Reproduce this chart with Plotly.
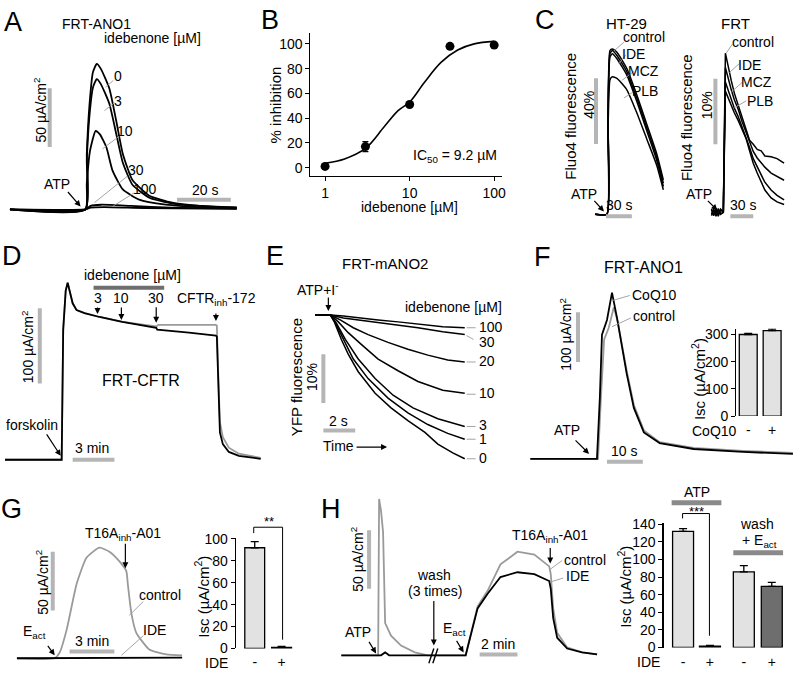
import plotly.graph_objects as go

W, H = 800, 678
FONT = "Liberation Sans, Arial, sans-serif"
BLACK = "#000000"
GTRACE = "#9a9a9a"
GBAR = "#b5b5b5"
DARK = "#6e6e6e"
FILL = "#e2e2e2"

# ---------------- DATA ----------------
# A: FRT-ANO1 short-circuit current (t in s, Isc in uA/cm2), idebenone 0,3,10,30,100 uM
a_t0 = [0, 28.1, 28.6, 29.6, 30.9, 32.3, 33.8, 37, 39.6, 42, 45.6, 51.9, 60.4, 70, 84.4]
a_i0 = [0, 0, 47, 89, 117, 124, 120, 103, 75, 47.5, 25, 11.7, 5.8, 3.3, 1.7]
a_i3 = [0, 0, 42, 80, 104, 111, 107, 90, 64, 40, 21, 10, 5, 3, 1.5]
a_t10 = [0, 28.1, 28.6, 29.8, 31.9, 33.5, 35.9, 38.2, 42, 48.1, 58, 70, 84.4]
a_i10 = [0, 0, 22, 50, 67, 64, 53, 33, 17, 8.3, 4, 2, 1.2]
a_t30 = [0, 28.1, 30, 34, 45, 60, 84.4]
a_i30 = [0, 0, 3, 4, 3, 1.5, 0.8]
a_t100 = [0, 28.1, 30, 35, 50, 84.4]
a_i100 = [0, 0, 1.5, 2, 1.2, 0.5]
a_labels = ["0", "3", "10", "30", "100"]

# B: dose-response
b_dose = [1, 3, 10, 30, 100]
b_inh = [1, 17, 51, 98, 99]
b_err = [1, 4, 1.5, 1.5, 1.5]
b_fit_x = [1, 1.7, 3, 5, 7.3, 10, 15, 23.5, 37, 58, 100]
b_fit_y = [3.5, 7, 15.5, 33, 46, 53, 69, 85, 95, 100, 102]
b_xticks = [1, 10, 100]
b_yticks = [0, 20, 40, 60, 80, 100]

# C: Fluo4 fluorescence (t in s, % change)
c_ht_t = [0, 13.8, 15.0, 17.3, 20.0, 25.4, 36.9, 48.4, 60.0, 71.5, 79.2]
c_ht_control = [0, 0, 60, 100, 101, 99, 89, 73, 55, 37, 21]
c_ht_ide = [0, 0, 58, 98, 100, 97, 87, 71, 53, 35, 19]
c_ht_mcz = [0, 0, 56, 96, 98, 95, 85, 69, 51, 33, 17]
c_ht_plb = [0, 0, 48, 82, 84, 83, 76, 62, 46, 30, 15]
c_frt_t = [0, 3, 6, 9, 12, 15.6, 18.3, 22, 26, 30, 35.2, 40, 45.6, 50, 54.8, 60, 65.2, 70, 78.2, 86, 95.2]
c_frt_control = [0.4, -0.5, 0.6, -0.3, 0.5, 0, 24.3, 22, 20.1, 18.2, 16.4, 14.4, 12.7, 11.0, 10.4, 9.6, 9.4, 8.6, 8.5, 8.2, 7.5]
c_frt_ide = [-0.3, 0.5, -0.6, 0.4, -0.2, 0, 22.1, 20.3, 18.7, 17.2, 15.7, 13.9, 12.2, 10.7, 9.3, 8.3, 7.5, 6.9, 6.0, 5.5, 4.9]
c_frt_mcz = [0.5, -0.4, 0.3, -0.6, 0.4, 0, 19.9, 18.6, 17.2, 15.9, 14.6, 13.1, 11.6, 9.9, 8.2, 6.9, 5.7, 4.6, 3.4, 2.6, 1.9]
c_frt_plb = [-0.5, 0.3, -0.4, 0.6, -0.3, 0, 18.5, 17.4, 16.4, 15.2, 14.0, 12.6, 11.2, 9.4, 7.5, 6.0, 4.5, 3.4, 2.2, 1.6, 1.2]
c_labels = ["control", "IDE", "MCZ", "PLB"]

# D: FRT-CFTR (t in min, Isc uA/cm2)
d_t_ide = [0, 4.07, 4.18, 4.36, 4.5, 4.64, 4.86, 5.14, 5.71, 6.79, 8.43, 10.86, 10.93, 13.21, 15.14,
           15.21, 15.29, 15.36, 15.43, 15.64, 16.07, 16.79, 18.36]
d_i_ide = [0, 0, 172.7, 224.7, 235, 224.7, 207.8, 198.7, 194.8, 189.6, 183.1, 175.3, 172.7, 168.8, 165,
           163.6, 107.8, 55.8, 36.4, 20.8, 10.4, 5.2, 1.3]
d_t_ctl = [0, 4.07, 4.18, 4.36, 4.5, 4.64, 4.86, 5.14, 5.71, 6.79, 8.43, 10.86, 11.0, 15.14,
           15.21, 15.29, 15.36, 15.43, 15.64, 16.07, 16.79, 18.36]
d_i_ctl = [0, 0, 172.7, 224.7, 235, 224.7, 207.8, 198.7, 194.8, 189.6, 183.1, 177, 179.2, 179.2,
           178, 125, 75, 50, 30, 16, 8, 2.5]
d_doses = ["3", "10", "30"]

# E: FRT-mANO2 YFP fluorescence (t in s, % change)
e_t0 = [0, 0.94, 1.19, 1.63, 2.06, 2.69, 3.75, 4.75, 5.81, 6.88, 7.69, 8.63, 9.38]
e_f0 = [0, 0, -1.4, -5, -8, -11.6, -16, -19, -21.6, -24, -26.4, -28.2, -29.4]
e_t1 = [0, 0.94, 1.25, 1.75, 2.38, 3.31, 4.56, 5.81, 7.06, 8.31, 9.38]
e_f1 = [0, 0, -1.6, -5, -9, -13, -17, -20, -22.4, -24.2, -25.4]
e_t3 = [0, 0.94, 1.31, 1.88, 2.69, 3.75, 4.88, 6.13, 7.69, 9.38]
e_f3 = [0, 0, -1.6, -5, -9, -13, -16.4, -19, -21.2, -22.8]
e_t10 = [0, 0.94, 1.44, 2.06, 2.88, 3.94, 5.19, 6.44, 8.0, 9.38]
e_f10 = [0, 0, -1.4, -3.6, -6, -9, -11.4, -13.6, -15.4, -16]
e_t20 = [0, 0.94, 1.56, 2.38, 3.31, 4.56, 5.81, 7.06, 8.31, 9.38]
e_f20 = [0, 0, -1, -2.6, -4, -5.6, -7, -8.2, -9.2, -9.6]
e_t30 = [0, 0.94, 1.75, 2.69, 3.94, 5.19, 6.44, 8.0, 9.38]
e_f30 = [0, 0, -0.6, -1, -1.4, -2, -2.6, -3.4, -4]
e_f100 = [0, 0, -0.2, -0.6, -1, -1.4, -1.8, -2.4, -2.6]
e_labels = ["100", "30", "20", "10", "3", "1", "0"]

# F: FRT-ANO1 with CoQ10 (t in s, Isc uA/cm2)
f_t_coq = [0, 18.6, 19.4, 20, 21.4, 22.8, 24.2, 26.1, 26.9, 28.9, 31.7, 36.1, 45.6, 59.4, 73.3]
f_i_coq = [0, 0, 121.6, 249, 278.4, 333.3, 282.4, 200, 170.6, 101.9, 52.9, 31.4, 19.6, 13.7, 9.8]
f_t_ctl = [0, 18.9, 19.7, 20.6, 21.9, 23.3, 24.4, 26.1, 26.9, 28.9, 31.7, 36.1, 45.6, 59.4, 73.3]
f_i_ctl = [0, 0, 121.6, 239.2, 262.7, 303.9, 274.5, 203.9, 176.5, 107.8, 56.9, 33.3, 21.6, 15.7, 11.8]
f_bar_labels = ["-", "+"]
f_bar_vals = [300, 314]
f_bar_err = [4, 6]

# G: Eact-stimulated current (t in min)
g_t_ctl = [0, 2.53, 2.87, 3.33, 4, 4.67, 5.53, 6.2, 6.87, 7.33, 7.43, 7.67, 8, 8.87, 10, 11.07]
g_i_ctl = [0, 0, 5, 24.2, 63.3, 85.8, 94.2, 90.8, 82.5, 74.2, 63.3, 38.3, 21.7, 7.5, 3.3, 2.5]
g_t_ide = [0, 3, 6, 9, 11.07]
g_i_ide = [0, 0.3, 0.5, 0.5, 0.5]
g_bar_labels = ["-", "+"]
g_bar_vals = [92, 1]
g_bar_err = [5.5, 0.8]

# H: ATP then wash + Eact (t in min)
h_t_ctl = [0, 1.95, 2.0, 2.1, 2.21, 2.32, 2.63, 3.16, 3.89, 4.58, 6.58, 6.84, 7.21, 7.74, 8.42, 9.32,
           10.21, 11.0, 11.08, 11.21, 11.42, 11.95, 12.74, 13.53]
h_i_ctl = [0, 0, 133.3, 123.3, 105, 27.5, 16.7, 8.3, 2.5, 0, 0, 16.7, 41.7, 55, 77.5, 88.3,
           85.8, 75.8, 69.2, 40, 19.2, 6.7, 2.5, 0.8]
h_t_ide = [0, 2.1, 2.32, 2.53, 3.0, 6.58, 6.84, 7.21, 7.74, 8.42, 9.32, 10.21, 11.0, 11.08, 11.21,
           11.42, 11.95, 12.74, 13.53]
h_i_ide = [0, 0, 2.5, 0, 0, 0, 16.7, 40, 52.5, 66.7, 70.8, 69.2, 63.3, 56.7, 31.7, 15, 5.8, 2.5, 0.8]
h_bar_labels = ["-", "+", "-", "+"]
h_bar_vals = [132, 1.5, 86, 69.5]
h_bar_err = [3, 1, 7, 4.5]
h_bar_fill = [FILL, FILL, FILL, DARK]

# ---------------- FIGURE ----------------
fig = go.Figure()
ann = []
shp = []
n_axes = [0]


def new_axes(box, x_origin, x_scale, y_origin, y_scale):
    """box = (left, right, top, bottom) in pixels; origin = pixel of data 0; scale = px per unit."""
    n_axes[0] += 1
    n = n_axes[0]
    k = "" if n == 1 else str(n)
    l, r, t, b = box
    xr = [(l - x_origin) / x_scale, (r - x_origin) / x_scale]
    yr = [(y_origin - b) / y_scale, (y_origin - t) / y_scale]
    fig.update_layout(**{
        "xaxis" + k: dict(domain=[l / W, r / W], range=xr, visible=False, anchor="y" + k, fixedrange=True),
        "yaxis" + k: dict(domain=[1 - b / H, 1 - t / H], range=yr, visible=False, anchor="x" + k, fixedrange=True),
    })
    return "x" + k, "y" + k, k


def line(ax, x, y, color=BLACK, width=1.8, shape="linear"):
    fig.add_trace(go.Scatter(x=x, y=y, xaxis=ax[0], yaxis=ax[1], mode="lines",
                             line=dict(color=color, width=width, shape=shape, smoothing=0.5),
                             hoverinfo="skip", showlegend=False))


def txt(x, y, s, size=13, angle=0, anchor="center", color=BLACK):
    ann.append(dict(x=x / W, y=1 - y / H, xref="paper", yref="paper", text=s, showarrow=False,
                    font=dict(size=size, color=color, family=FONT), textangle=angle,
                    xanchor=anchor, yanchor="middle"))


def arrow(x1, y1, x2, y2, width=1.2):
    ann.append(dict(x=x2 / W, y=1 - y2 / H, xref="paper", yref="paper", ax=x1 - x2, ay=y1 - y2,
                    text="", showarrow=True, arrowhead=2, arrowsize=1, arrowwidth=width,
                    arrowcolor=BLACK))


def seg(x1, y1, x2, y2, color=GTRACE, width=0.9):
    shp.append(dict(type="line", xref="paper", yref="paper", x0=x1 / W, y0=1 - y1 / H,
                    x1=x2 / W, y1=1 - y2 / H, line=dict(color=color, width=width)))


def scalebar(ax, x0, y0, x1, y1, color=GBAR, width=4):
    shp.append(dict(type="line", xref=ax[0], yref=ax[1], x0=x0, y0=y0, x1=x1, y1=y1,
                    line=dict(color=color, width=width)))


def bar_axes(k, left, right, zero_px, px_per, ymax, yticks, xrange, labels, pos):
    fig.update_layout(**{
        "xaxis" + k: dict(domain=[left / W, right / W], range=xrange, anchor="y" + k, fixedrange=True,
                          showline=False, showgrid=False, zeroline=False, ticks="",
                          tickvals=pos, ticktext=labels, ticklabelstandoff=4,
                          tickfont=dict(size=14, family=FONT, color=BLACK)),
        "yaxis" + k: dict(domain=[1 - zero_px / H, 1 - (zero_px - ymax * px_per) / H], range=[0, ymax],
                          anchor="x" + k, tickvals=yticks, ticks="outside", ticklen=4, showline=True,
                          linecolor=BLACK, linewidth=1.2, tickcolor=BLACK, showgrid=False,
                          zeroline=False, tickfont=dict(size=14, family=FONT, color=BLACK),
                          fixedrange=True),
    })


# ---- Panel A ----
axA = new_axes((0, 265, 30, 222), 10, 2.7, 207, 1.2)
line(axA, a_t100, a_i100, shape="spline")
line(axA, a_t30, a_i30, shape="spline")
line(axA, a_t10, a_i10, shape="spline")
line(axA, a_t0, a_i3, shape="spline")
line(axA, a_t0, a_i0, shape="spline")
scalebar(axA, 14.8, 53.3, 14.8, 103.3)
scalebar(axA, 62.2, 8.3, 82.2, 8.3)
txt(13, 15, "A", 27)
txt(97, 17, "FRT-ANO1", 14)
txt(153, 32, "idebenone [µM]", 14)
for s, (lx, ly), (p1, p2) in zip(a_labels,
                                 [(119, 71), (119, 96), (126, 127), (137, 167), (146, 186)],
                                 [((106, 82), (114, 75)), ((105, 106), (115, 98)), ((103, 145), (120, 132)),
                                  ((95, 200), (128, 173)), ((113, 204), (135, 190))]):
    txt(lx, ly, s, 14)
    seg(p1[0], p1[1], p2[0], p2[1])
txt(57, 181, "ATP", 14)
arrow(67, 188, 81, 204)
txt(40, 105, "50 µA/cm<sup>2</sup>", 14, angle=-90)
txt(206, 187, "20 s", 14)

# ---- Panel B ----
fig.update_layout(
    xaxis2=dict(domain=[312 / W, 505 / W], type="log", range=[-0.173, 2.098], anchor="y2",
                tickvals=b_xticks, ticktext=[str(v) for v in b_xticks], ticks="outside", ticklen=4,
                showline=True, linecolor=BLACK, linewidth=1, tickcolor=BLACK, showgrid=False,
                zeroline=False, tickfont=dict(size=14, family=FONT, color=BLACK), fixedrange=True),
    yaxis2=dict(domain=[1 - 173 / H, 1 - 27 / H], range=[-6.9, 108.45], anchor="x2",
                tickvals=b_yticks, ticks="outside", ticklen=4, showline=True, linecolor=BLACK,
                linewidth=1, tickcolor=BLACK, showgrid=False, zeroline=False,
                tickfont=dict(size=14, family=FONT, color=BLACK), fixedrange=True),
)
n_axes[0] += 1
fig.add_trace(go.Scatter(x=b_fit_x, y=b_fit_y, xaxis="x2", yaxis="y2", mode="lines",
                         line=dict(color=BLACK, width=1.6, shape="spline"), hoverinfo="skip",
                         showlegend=False))
fig.add_trace(go.Scatter(x=b_dose, y=b_inh, xaxis="x2", yaxis="y2", mode="markers",
                         marker=dict(color=BLACK, size=9),
                         error_y=dict(type="data", array=b_err, color=BLACK, thickness=1.2, width=3),
                         hoverinfo="skip", showlegend=False))
txt(271, 13, "B", 27)
txt(277, 100, "% inhibition", 15, angle=-90)
txt(412, 205, "idebenone [µM]", 14)
txt(457, 152, "IC<sub>50</sub> = 9.2 µM", 14)

# ---- Panel C (HT-29) ----
axC1 = new_axes((585, 680, 30, 222), 598, 0.867, 212, 1.675)
for v in [c_ht_plb, c_ht_mcz, c_ht_ide, c_ht_control]:
    line(axC1, c_ht_t, v, width=1.5, shape="spline")
scalebar(axC1, 1.15, 43, 1.15, 83)
scalebar(axC1, 12.7, -1.2, 42.7, -1.2)
# ---- Panel C (FRT) ----
axC2 = new_axes((700, 800, 30, 222), 715, 0.767, 210, 6.7)
for v in [c_frt_plb, c_frt_mcz, c_frt_ide, c_frt_control]:
    line(axC2, c_frt_t, v, width=1.5)
scalebar(axC2, 5.2, 10.4, 5.2, 20.4)
scalebar(axC2, 24.8, -0.6, 54.8, -0.6)
txt(548, 13, "C", 27)
txt(630, 17, "HT-29", 15)
txt(739, 17, "FRT", 15)
txt(573, 112, "Fluo4 fluorescence", 15, angle=-90)
txt(592, 100, "40%", 14, angle=-90)
txt(690, 113, "Fluo4 fluorescence", 15, angle=-90)
txt(710, 100, "10%", 14, angle=-90)
for s, (lx, ly), (p1, p2) in zip(c_labels, [(647, 31), (637, 48), (647, 65), (648, 86)],
                                 [((617, 45), (627, 36)), ((622, 58), (629, 49)),
                                  ((625, 75), (637, 66)), ((627, 93), (638, 86))]):
    txt(lx, ly, s, 14)
    seg(p1[0], p1[1], p2[0], p2[1])
for s, (lx, ly), (p1, p2) in zip(c_labels, [(757, 36), (753, 59), (760, 77), (764, 96)],
                                 [((730, 47), (736, 38)), ((733, 67), (743, 58)),
                                  ((735, 87), (746, 77)), ((738, 103), (750, 96))]):
    txt(lx, ly, s, 14)
    seg(p1[0], p1[1], p2[0], p2[1])
txt(587, 191, "ATP", 14)
arrow(596, 197, 607, 209)
txt(703, 191, "ATP", 14)
arrow(710, 197, 721, 208)
txt(622, 202, "30 s", 14)
txt(747, 202, "30 s", 14)

# ---- Panel D ----
axD = new_axes((0, 268, 250, 475), 5, 14, 463, 0.77)
line(axD, d_t_ctl, d_i_ctl, color=GTRACE, width=1.8)
line(axD, d_t_ide, d_i_ide, width=1.8)
scalebar(axD, 2.5, 101.3, 2.5, 201.3)
scalebar(axD, 4.86, 0, 7.86, 0)
scalebar(axD, 6.36, 228.6, 11.43, 228.6, color=DARK, width=4)
txt(12, 255, "D", 27)
txt(133, 274, "idebenone [µM]", 14)
for s, xx in zip(d_doses, [98, 122, 157]):
    txt(xx, 298, s, 14)
arrow(98, 306, 98, 314)
arrow(122, 306, 122, 320)
arrow(157, 306, 157, 323)
txt(218, 299, "CFTR<sub>inh</sub>-172", 14)
arrow(217, 312, 217, 321)
txt(142, 382, "FRT-CFTR", 16)
txt(28, 347, "100 µA/cm<sup>2</sup>", 14, angle=-90)
txt(32, 427, "forskolin", 14)
arrow(46, 436, 61, 459)
txt(92, 451, "3 min", 14)

# ---- Panel E ----
axE = new_axes((290, 530, 280, 475), 317, 16, 315, 5)
line(axE, e_t30, e_f100, width=1.5)
line(axE, e_t30, e_f30, width=1.5)
line(axE, e_t20, e_f20, width=1.5)
line(axE, e_t10, e_f10, width=1.5)
line(axE, e_t3, e_f3, width=1.5)
line(axE, e_t1, e_f1, width=1.5)
line(axE, e_t0, e_f0, width=1.5)
scalebar(axE, 0.5, -8, 0.5, -18)
scalebar(axE, 0.5, -23.6, 2.5, -23.6)
txt(276, 255, "E", 27)
txt(387, 262, "FRT-mANO2", 15)
txt(320, 288, "ATP+I<sup>-</sup>", 14)
arrow(330, 296, 330, 311)
txt(456, 307, "idebenone [µM]", 14)
for s, ly, tyo in zip(e_labels, [328, 343, 363, 396, 429, 442, 462], [-1, 0, -1, -1, -2, 0, -1]):
    txt(479, ly + tyo, s, 14, anchor="left")
    if s == "30":
        seg(469, 336, 476, 340)
    else:
        seg(469, ly, 478, ly)
txt(298, 379, "YFP fluorescence", 15, angle=-90)
txt(313, 378, "10%", 14, angle=-90)
txt(340, 423, "2 s", 14)
txt(340, 449, "Time", 14)
arrow(357, 450, 389, 450)

# ---- Panel F ----
axF = new_axes((530, 800, 250, 470), 533, 3.6, 462, 0.51)
line(axF, f_t_ctl, f_i_ctl, color=GTRACE, width=1.8)
line(axF, f_t_coq, f_i_coq, width=1.8)
scalebar(axF, 13.3, 194, 13.3, 294)
scalebar(axF, 21.4, -5.9, 31.4, -5.9)
txt(545, 256, "F", 27)
txt(647, 266, "FRT-ANO1", 16)
txt(568, 335, "100 µA/cm<sup>2</sup>", 14, angle=-90)
txt(658, 295, "CoQ10", 14)
seg(616, 300, 633, 295)
txt(657, 316, "control", 14)
seg(615, 327, 634, 318)
txt(570, 433, "ATP", 14)
arrow(577, 442, 592, 457)
txt(627, 454, "10 s", 14)

# F inset bar chart
n_axes[0] += 1
bar_axes("8", 740, 790, 418.3, 0.278, 322, [0, 100, 200, 300], [0.5, 2.583], f_bar_labels, [1, 2])
fig.add_trace(go.Bar(x=[1, 2], y=f_bar_vals, xaxis="x8", yaxis="y8", width=0.75,
                     marker=dict(color=FILL, line=dict(color=BLACK, width=1.3)),
                     error_y=dict(type="data", array=f_bar_err, arrayminus=[0, 0], symmetric=False,
                                  color=BLACK, thickness=1.3, width=4),
                     hoverinfo="skip", showlegend=False))
txt(718, 434, "CoQ10", 14)
txt(702, 380, "Isc (µA/cm<sup>2</sup>)", 15, angle=-90)

# ---- Panel G ----
axG = new_axes((0, 200, 520, 670), 17, 15, 666, 1.2)
line(axG, g_t_ctl, g_i_ctl, color=GTRACE, width=1.8, shape="spline")
line(axG, g_t_ide, g_i_ide, width=1.8)
scalebar(axG, 2.4, 40.8, 2.4, 90.8)
scalebar(axG, 3.53, 5.8, 6.53, 5.8)
txt(12, 513, "G", 27)
txt(124, 539, "T16A<sub>inh</sub>-A01", 14)
arrow(126, 548, 126, 574)
txt(161, 601, "control", 14)
seg(130, 622, 144, 608)
txt(155, 637, "IDE", 14)
seg(122, 663, 144, 643)
txt(35, 639, "E<sub>act</sub>", 14)
arrow(47, 652, 55, 663)
txt(42, 588, "50 µA/cm<sup>2</sup>", 14, angle=-90)
txt(92, 648, "3 min", 14)

# G bar chart
n_axes[0] += 1
bar_axes("10", 237, 300, 656, 1.12, 101, [0, 20, 40, 60, 80, 100], [0.296, 2.63], g_bar_labels, [1, 2])
fig.add_trace(go.Bar(x=[1, 2], y=g_bar_vals, xaxis="x10", yaxis="y10", width=0.74,
                     marker=dict(color=FILL, line=dict(color=BLACK, width=1.3)),
                     error_y=dict(type="data", array=g_bar_err, arrayminus=[0, 0], symmetric=False,
                                  color=BLACK, thickness=1.3, width=4),
                     hoverinfo="skip", showlegend=False))
txt(218, 671, "IDE", 14)
txt(203, 603, "Isc (µA/cm<sup>2</sup>)", 15, angle=-90)
seg(255, 538, 255, 532, BLACK, 1)
seg(255, 532, 284, 532, BLACK, 1)
seg(284, 532, 284, 647, BLACK, 1)
txt(270, 526, "**", 13)

# ---- Panel H ----
axH = new_axes((330, 620, 500, 672), 343, 19, 663, 1.2)
line(axH, h_t_ctl, h_i_ctl, color=GTRACE, width=1.8)
line(axH, h_t_ide, h_i_ide, width=1.8)
scalebar(axH, 1.47, 56.7, 1.47, 106.7)
scalebar(axH, 7.32, 0.8, 9.32, 0.8)
seg(431, 671, 436, 656, BLACK, 1.4)
seg(435, 671, 440, 656, BLACK, 1.4)
txt(333, 513, "H", 27)
txt(360, 639, "ATP", 14)
arrow(370, 648, 378, 661)
txt(436, 581, "wash", 14)
txt(437, 597, "(3 times)", 14)
arrow(436, 607, 436, 653)
txt(457, 636, "E<sub>act</sub>", 14)
arrow(458, 647, 466, 660)
txt(358, 565, "50 µA/cm<sup>2</sup>", 14, angle=-90)
txt(501, 651, "2 min", 14)
txt(553, 541, "T16A<sub>inh</sub>-A01", 14)
arrow(553, 552, 553, 569)
txt(565, 566, "control", 14, anchor="left")
seg(553, 575, 565, 566)
txt(567, 582, "IDE", 14, anchor="left")
seg(553, 588, 566, 584)

# H bar chart
h_pos = [1, 2, 3.26, 4.3]
n_axes[0] += 1
bar_axes("12", 667, 797, 655, 0.9, 141, list(range(0, 141, 20)), [0.278, 5.09], h_bar_labels, h_pos)
fig.add_trace(go.Bar(x=h_pos, y=h_bar_vals, xaxis="x12", yaxis="y12", width=0.78,
                     marker=dict(color=h_bar_fill, line=dict(color=BLACK, width=1.3)),
                     error_y=dict(type="data", array=h_bar_err, arrayminus=[0, 0, 0, 0], symmetric=False,
                                  color=BLACK, thickness=1.3, width=4),
                     hoverinfo="skip", showlegend=False))
txt(652, 670, "IDE", 14)
txt(628, 593, "Isc (µA/cm<sup>2</sup>)", 15, angle=-90)
txt(700, 496, "ATP", 14)
seg(675, 507, 725, 507, "#8a8a8a", 5)
txt(700, 516, "***", 13)
seg(686, 523, 686, 518, BLACK, 1)
seg(686, 518, 713, 518, BLACK, 1)
seg(713, 518, 713, 643, BLACK, 1)
txt(761, 529, "wash", 14)
txt(763, 546, "+ E<sub>act</sub>", 14)
seg(737, 558, 787, 558, "#8a8a8a", 5)

fig.update_layout(width=W, height=H, margin=dict(l=0, r=0, t=0, b=0), autosize=False,
                  paper_bgcolor="white", plot_bgcolor="white", annotations=ann, shapes=shp,
                  font=dict(family=FONT, color=BLACK), showlegend=False, bargap=0,
                  hovermode=False)
fig.write_html("out.html", config={"displayModeBar": False, "staticPlot": True},
               post_script="document.body.style.margin='0';document.body.style.padding='0';"
                           "document.body.style.overflow='hidden';")
